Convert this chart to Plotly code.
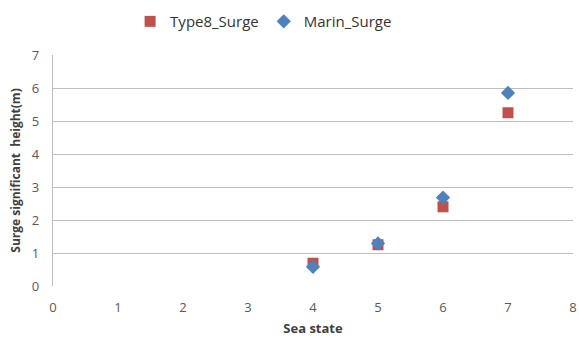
import plotly.graph_objects as go

sea_state = [4, 5, 6, 7]
type8_surge = [0.69, 1.25, 2.40, 5.25]
marin_surge = [0.58, 1.29, 2.68, 5.85]

x_ticks = [0, 1, 2, 3, 4, 5, 6, 7, 8]
y_ticks = [0, 1, 2, 3, 4, 5, 6, 7]

fig = go.Figure()
fig.add_trace(go.Scatter(x=sea_state, y=type8_surge, mode="markers", name="Type8_Surge",
                         marker=dict(symbol="square", size=11, color="#C0504D")))
fig.add_trace(go.Scatter(x=sea_state, y=marin_surge, mode="markers", name="Marin_Surge",
                         marker=dict(symbol="diamond", size=11, color="#4F81BD")))

fig.update_layout(
    template="none",
    width=579, height=340,
    margin=dict(l=53, r=6, t=55, b=54),
    paper_bgcolor="white", plot_bgcolor="white",
    font=dict(family="Open Sans, Liberation Sans, sans-serif", size=12, color="#595959"),
    legend=dict(orientation="h", x=0.405, xanchor="center", y=0.985, yref="container", yanchor="top",
                font=dict(size=15, color="#333333"), itemwidth=30, traceorder="normal"),
    showlegend=True,
    xaxis=dict(range=[0, 8], tickvals=x_ticks, showgrid=False, zeroline=False, automargin=False,
               showline=False, ticks="", ticklabeloverflow="allow", ticklabelstandoff=12,
               tickfont=dict(size=13, color="#595959"),
               title=dict(text="<b>Sea state</b>", font=dict(size=13, color="#404040"), standoff=8)),
    yaxis=dict(range=[0, 7], tickvals=y_ticks, showgrid=True, gridcolor="#BFBFBF", gridwidth=1.3,
               zeroline=False, showline=True, linecolor="#BFBFBF", linewidth=1.3, ticks="",
               automargin=False, ticklabelstandoff=10, tickfont=dict(size=13, color="#595959"),
               title=dict(text="<b>Surge significant  height(m)</b>", font=dict(size=12, color="#404040"), standoff=8)),
)

fig.write_html("out.html", config={"displayModeBar": False},
               post_script="document.body.style.margin='0';")
